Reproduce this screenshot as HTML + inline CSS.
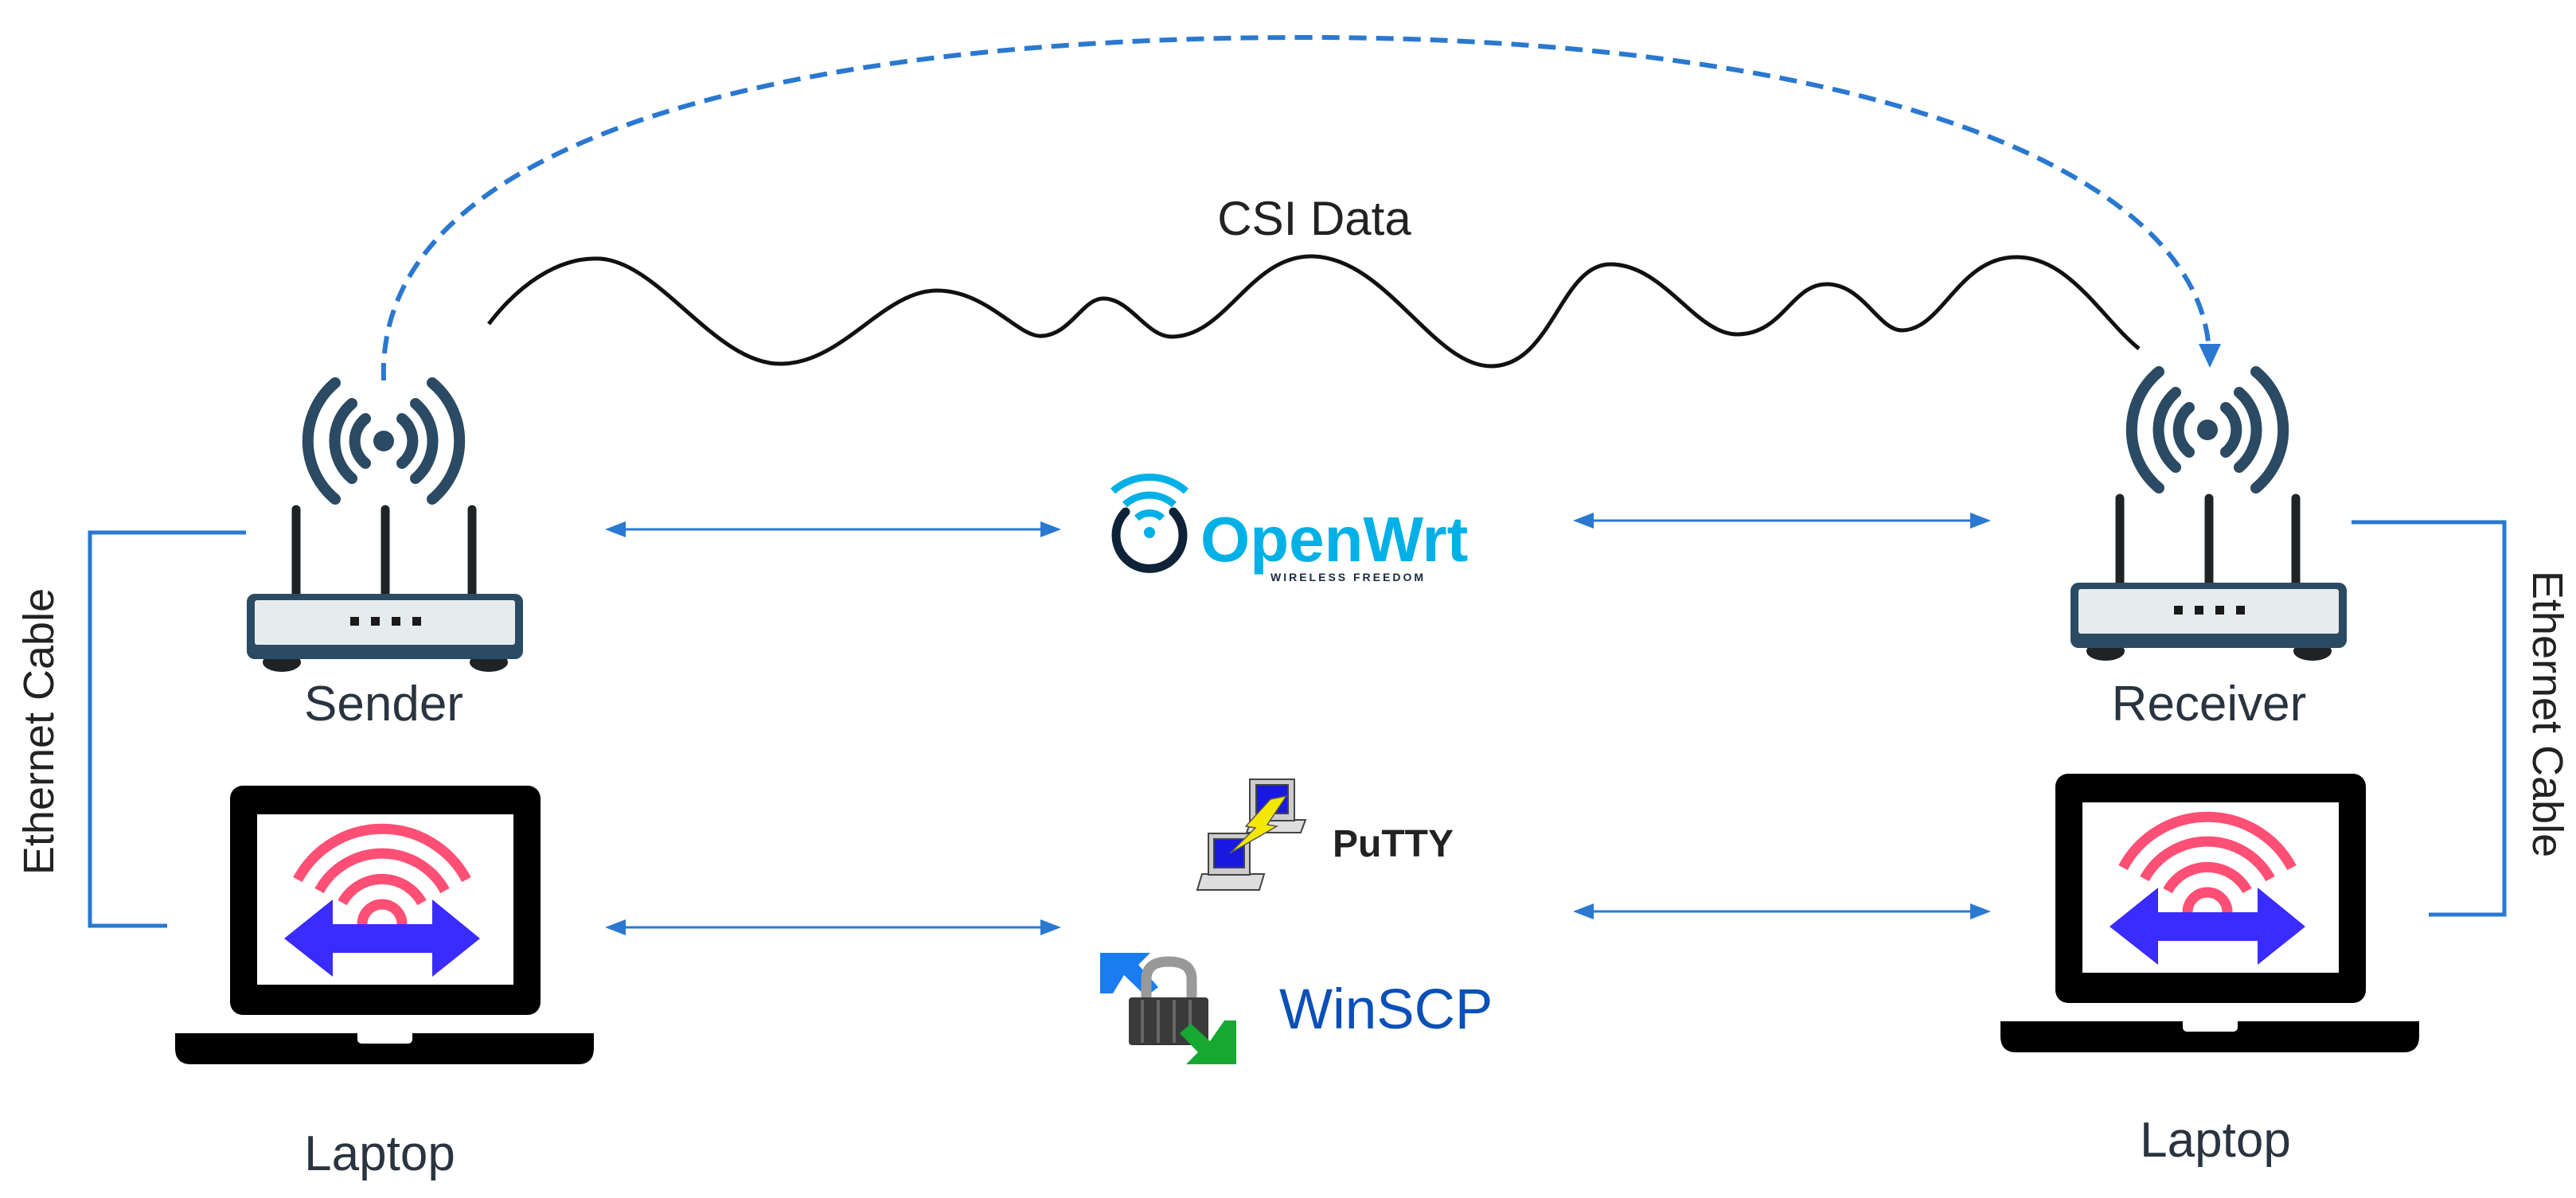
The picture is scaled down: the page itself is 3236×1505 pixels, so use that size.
<!DOCTYPE html>
<html><head><meta charset="utf-8"><style>
html,body{margin:0;padding:0;background:#fff;}
svg{display:block;}
text{font-family:"Liberation Sans","DejaVu Sans",sans-serif;}
</style></head><body>
<svg width="3236" height="1505" viewBox="0 0 3236 1505" xmlns="http://www.w3.org/2000/svg">
<defs>
<g id="router">
  <g fill="none" stroke="#2b4a63" stroke-width="14" stroke-linecap="round">
    <path d="M -61 -73 A 95 95 0 0 0 -61 73"/>
    <path d="M 61 -73 A 95 95 0 0 1 61 73"/>
    <path d="M -40 -47 A 62 62 0 0 0 -40 47"/>
    <path d="M 40 -47 A 62 62 0 0 1 40 47"/>
    <path d="M -23 -28 A 36 36 0 0 0 -23 28"/>
    <path d="M 23 -28 A 36 36 0 0 1 23 28"/>
  </g>
  <circle cx="0" cy="0" r="13" fill="#2b4a63"/>
  <g stroke="#1f2326" stroke-width="11" stroke-linecap="round">
    <line x1="-110" y1="86" x2="-110" y2="195"/>
    <line x1="2" y1="86" x2="2" y2="195"/>
    <line x1="111" y1="86" x2="111" y2="195"/>
  </g>
  <ellipse cx="-128" cy="278" rx="24" ry="12" fill="#1f2326"/>
  <ellipse cx="132" cy="278" rx="24" ry="12" fill="#1f2326"/>
  <rect x="-172" y="192" width="347" height="82" rx="10" fill="#2b4a63"/>
  <rect x="-162" y="200" width="327" height="56" rx="3" fill="#e6ecee"/>
  <g fill="#1a1a1a">
    <rect x="-42" y="221" width="11" height="11"/>
    <rect x="-16" y="221" width="11" height="11"/>
    <rect x="10" y="221" width="11" height="11"/>
    <rect x="36" y="221" width="11" height="11"/>
  </g>
</g>
<g id="laptop">
  <rect x="0" y="0" width="390" height="288" rx="16" fill="#000"/>
  <rect x="34" y="36" width="322" height="214" fill="#fff"/>
  <g fill="none" stroke="#ff4f74" stroke-width="13">
    <path d="M 85 118 A 120 120 0 0 1 297 118"/>
    <path d="M 112 132 A 90 90 0 0 1 270 132"/>
    <path d="M 141 147 A 57 57 0 0 1 241 147"/>
    <path d="M 166 174 A 25 25 0 0 1 216 174"/>
  </g>
  <polygon fill="#3a2cff" points="68,192 129,143 129,174 254,174 254,143 314,192 254,240 254,210 129,210 129,240"/>
  <path d="M -69 311 H 457 V 330 Q 457 350 437 350 H -49 Q -69 350 -69 330 Z" fill="#000"/>
  <path d="M 160 309 H 229 V 318 Q 229 324 223 324 H 166 Q 160 324 160 318 Z" fill="#fff"/>
</g>
</defs>

<!-- dashed arc -->
<path d="M 482 478 C 470 170, 1000 47, 1640 47 C 2300 47, 2760 200, 2775 440" fill="none" stroke="#2a78d0" stroke-width="6" stroke-dasharray="22 12"/>
<polygon points="2776,462 2762,432 2790,432" fill="#2a78d0"/>

<!-- CSI wave -->
<path d="M 614 407 C 650 360 700 322 754 325 C 830 330 900 460 983 457 C 1060 455 1110 365 1177 365 C 1240 365 1280 425 1309 422 C 1345 420 1360 375 1386 375 C 1420 375 1440 423 1472 423 C 1540 423 1570 322 1647 322 C 1740 322 1800 460 1873 460 C 1950 460 1960 332 2023 332 C 2090 332 2130 420 2182 420 C 2240 420 2250 357 2295 357 C 2340 357 2360 415 2389 415 C 2440 415 2460 323 2533 323 C 2600 323 2640 400 2687 438" fill="none" stroke="#111" stroke-width="5"/>
<text x="1651" y="295" font-size="60" text-anchor="middle" fill="#222">CSI Data</text>

<!-- routers -->
<use href="#router" x="482" y="554"/>
<use href="#router" x="2773" y="540"/>
<text x="482" y="905" font-size="62" text-anchor="middle" fill="#2a3440">Sender</text>
<text x="2775" y="905" font-size="62" text-anchor="middle" fill="#2a3440">Receiver</text>

<!-- laptops -->
<use href="#laptop" x="289" y="987"/>
<use href="#laptop" x="2582" y="972"/>
<text x="477" y="1470" font-size="62" text-anchor="middle" fill="#2a3440">Laptop</text>
<text x="2783" y="1453" font-size="62" text-anchor="middle" fill="#2a3440">Laptop</text>

<!-- ethernet -->
<path d="M 309 669 H 113 V 1163 H 210" fill="none" stroke="#2a78d0" stroke-width="5"/>
<path d="M 2954 656 H 3146 V 1149 H 3051" fill="none" stroke="#2a78d0" stroke-width="5"/>
<text transform="translate(67,919) rotate(-90)" font-size="54" text-anchor="middle" fill="#222">Ethernet Cable</text>
<text transform="translate(3182,897) rotate(90)" font-size="54" text-anchor="middle" fill="#222">Ethernet Cable</text>

<!-- horizontal arrows -->
<g stroke="#2a78d0" stroke-width="3">
  <line x1="775" y1="665" x2="1318" y2="665"/>
  <line x1="775" y1="1165" x2="1318" y2="1165"/>
  <line x1="1991" y1="654" x2="2486" y2="654"/>
  <line x1="1991" y1="1145" x2="2486" y2="1145"/>
</g>
<g fill="#2a78d0">
  <polygon points="760,665 786,655 786,675"/><polygon points="1333,665 1307,655 1307,675"/>
  <polygon points="760,1165 786,1155 786,1175"/><polygon points="1333,1165 1307,1155 1307,1175"/>
  <polygon points="1976,654 2002,644 2002,664"/><polygon points="2501,654 2475,644 2475,664"/>
  <polygon points="1976,1145 2002,1135 2002,1155"/><polygon points="2501,1145 2475,1135 2475,1155"/>
</g>

<!-- OpenWrt logo -->
<path d="M 1414 643 A 42 42 0 1 0 1474 643" fill="none" stroke="#0e2238" stroke-width="11" stroke-linecap="round"/>
<g fill="none" stroke="#00b0e6" stroke-width="9">
  <path d="M 1398 617 A 69 69 0 0 1 1490 617"/>
  <path d="M 1413 634 A 46 46 0 0 1 1475 634"/>
  <path d="M 1428 651 A 23 23 0 0 1 1460 651"/>
</g>
<circle cx="1444" cy="669" r="7" fill="#00b0e6"/>
<text x="1508" y="705" font-size="80" font-weight="bold" fill="#00b0e6">OpenWrt</text>
<text x="1596" y="730" font-size="14" font-weight="bold" fill="#1a2a40" letter-spacing="3">WIRELESS FREEDOM</text>

<!-- PuTTY icon -->
<g stroke="#444" stroke-width="2">
  <path d="M 1572 1030 H 1640 L 1634 1046 H 1566 Z" fill="#ddd"/>
  <rect x="1570" y="979" width="56" height="52" fill="#ccc"/>
  <rect x="1578" y="986" width="40" height="36" fill="#1818e0"/>
  <path d="M 1510 1098 H 1588 L 1582 1118 H 1504 Z" fill="#ddd"/>
  <rect x="1518" y="1047" width="52" height="52" fill="#ccc"/>
  <rect x="1525" y="1054" width="38" height="36" fill="#1818e0"/>
</g>
<polygon points="1616,1000 1592,1036 1604,1038 1545,1072 1577,1040 1565,1038 1596,1004" fill="#f5e800" stroke="#555" stroke-width="1.5"/>
<text x="1674" y="1076" font-size="48" font-weight="bold" fill="#222">PuTTY</text>

<!-- WinSCP icon -->
<polygon points="1382,1197 1445,1197 1430,1212 1455,1240 1440,1252 1412,1225 1398,1248 1382,1248" fill="#1a7cf0"/>
<path d="M 1440 1255 V 1230 Q 1440 1208 1468 1208 Q 1497 1208 1497 1230 V 1255" fill="none" stroke="#999" stroke-width="13"/>
<rect x="1418" y="1253" width="100" height="60" rx="4" fill="#3a3a3a"/>
<g stroke="#666" stroke-width="4"><line x1="1435" y1="1256" x2="1435" y2="1310"/><line x1="1455" y1="1256" x2="1455" y2="1310"/><line x1="1475" y1="1256" x2="1475" y2="1310"/><line x1="1495" y1="1256" x2="1495" y2="1310"/></g>
<polygon points="1553,1282 1553,1337 1490,1337 1505,1322 1482,1298 1496,1286 1520,1308 1538,1282" fill="#16a830"/>
<text x="1607" y="1292" font-size="71" fill="#0a50b8">WinSCP</text>
</svg>
</body></html>
